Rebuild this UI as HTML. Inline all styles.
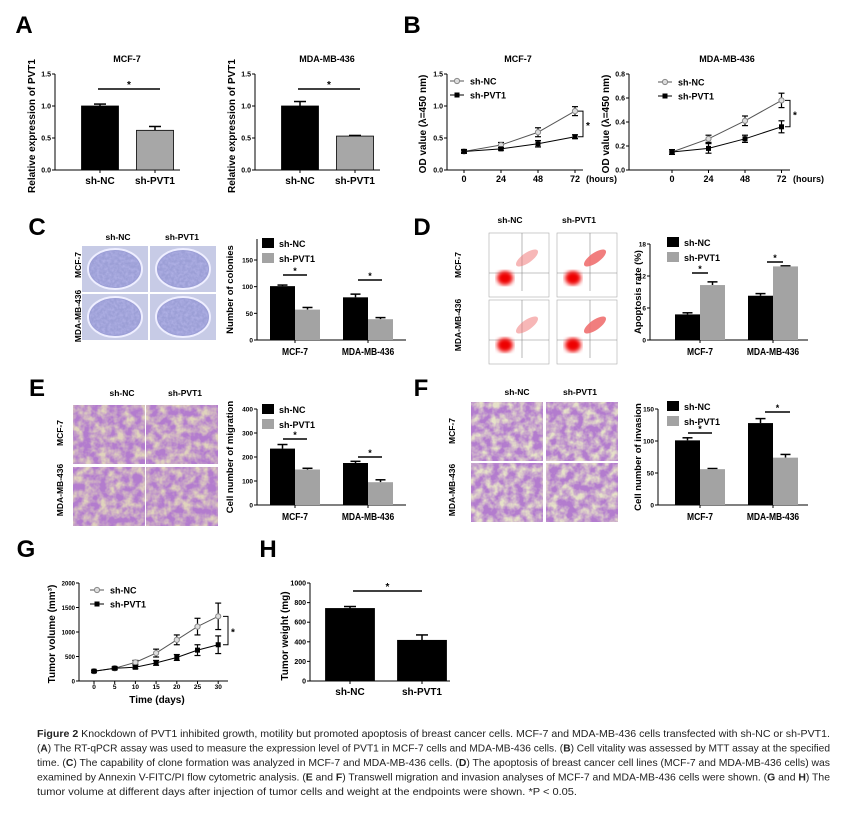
<!DOCTYPE html>
<html><head><meta charset="utf-8"><style>
html,body{margin:0;padding:0;background:#fff;}
svg{display:block;font-family:"Liberation Sans",Arial,sans-serif;}
</style></head><body>
<svg id="fig" width="859" height="820" viewBox="0 0 859 820" xmlns="http://www.w3.org/2000/svg">
<defs>
<filter id="colony" x="0" y="0" width="100%" height="100%"><feTurbulence type="fractalNoise" baseFrequency="0.35" numOctaves="2" seed="3"/><feColorMatrix type="matrix" values="0 0 0 0 0.45  0 0 0 0 0.45  0 0 0 0 0.8  0 0 0 -1.6 1.1"/><feComposite in2="SourceGraphic" operator="in"/></filter>
<filter id="trans" x="0" y="0" width="100%" height="100%"><feTurbulence type="fractalNoise" baseFrequency="0.12" numOctaves="3" seed="7"/><feColorMatrix type="matrix" values="0 0 0 0 0.45  0 0 0 0 0.2  0 0 0 0 0.62  0 0 0 -2.2 1.7"/><feComposite in2="SourceGraphic" operator="in"/></filter>
<filter id="blur1"><feGaussianBlur stdDeviation="2.2"/></filter>
</defs>
</svg>
<script>
// ---------- data ----------
const A_cats = ['sh-NC','sh-PVT1'];
const A1_vals = [1.0, 0.62];
const A1_err = [0.03, 0.06];
const A2_vals = [1.0, 0.53];
const A2_err = [0.07, 0.01];
const A_ticks = [0, 0.5, 1.0, 1.5];
const A_tickLabels = ['0.0','0.5','1.0','1.5'];

const B_hours = ['0','24','48','72'];
const B1_nc = [0.29, 0.39, 0.59, 0.92];
const B1_nc_err = [0.03, 0.04, 0.07, 0.07];
const B1_pvt = [0.29, 0.33, 0.41, 0.52];
const B1_pvt_err = [0.02, 0.02, 0.05, 0.03];
const B1_ticks = [0, 0.5, 1.0, 1.5];
const B1_tickLabels = ['0.0','0.5','1.0','1.5'];
const B2_nc = [0.15, 0.26, 0.41, 0.58];
const B2_nc_err = [0.02, 0.03, 0.04, 0.06];
const B2_pvt = [0.15, 0.18, 0.26, 0.36];
const B2_pvt_err = [0.02, 0.04, 0.03, 0.05];
const B2_ticks = [0, 0.2, 0.4, 0.6, 0.8];
const B2_tickLabels = ['0.0','0.2','0.4','0.6','0.8'];

const groups = ['MCF-7','MDA-MB-436'];
const C_nc = [101, 80];
const C_nc_err = [2, 6];
const C_pvt = [57, 39];
const C_pvt_err = [4, 3];
const C_ticks = [0, 50, 100, 150];
const D_nc = [4.8, 8.3];
const D_nc_err = [0.3, 0.4];
const D_pvt = [10.3, 13.8];
const D_pvt_err = [0.6, 0.1];
const D_ticks = [0, 6, 12, 18];
const E_nc = [235, 175];
const E_nc_err = [17, 7];
const E_pvt = [148, 95];
const E_pvt_err = [5, 10];
const E_ticks = [0, 100, 200, 300, 400];
const F_nc = [101, 128];
const F_nc_err = [4, 7];
const F_pvt = [56, 74];
const F_pvt_err = [1, 5];
const F_ticks = [0, 50, 100, 150];

const G_days = ['0','5','10','15','20','25','30'];
const G_nc = [200, 260, 380, 570, 840, 1110, 1320];
const G_nc_err = [20, 30, 40, 80, 100, 170, 270];
const G_pvt = [200, 260, 280, 370, 480, 630, 740];
const G_pvt_err = [20, 20, 30, 50, 60, 110, 180];
const G_ticks = [0, 500, 1000, 1500, 2000];

const H_vals = [740, 415];
const H_err = [20, 55];
const H_ticks = [0, 200, 400, 600, 800, 1000];

// ---------- helpers ----------
const svg = document.getElementById('fig');
const NS = 'http://www.w3.org/2000/svg';
function mk(tag, attrs, parent) {
  const e = document.createElementNS(NS, tag);
  for (const k in attrs) e.setAttribute(k, attrs[k]);
  (parent || svg).appendChild(e);
  return e;
}
function grp(name) {
  const g = mk('g', {});
  
  
  return g;
}
function txt(p, x, y, s, size, anchor, extra) {
  const t = mk('text', Object.assign({x: x, y: y, 'font-size': size, 'font-weight': 'bold', 'text-anchor': anchor || 'middle', fill: '#000'}, extra || {}), p);
  t.textContent = s;
  return t;
}
function rotTxt(p, x, y, s, size) {
  return txt(p, x, y, s, size, 'middle', {transform: 'rotate(-90 ' + x + ' ' + y + ')'});
}
function line(p, x1, y1, x2, y2, w, c) {
  return mk('line', {x1: x1, y1: y1, x2: x2, y2: y2, stroke: c || '#000', 'stroke-width': w || 1}, p);
}
function yAxis(p, ax, y0, yT, tmax, ticks, labels, yTop, fs) {
  const sc = v => y0 - v * (y0 - yT) / tmax;
  line(p, ax, y0, ax, yTop, 1);
  ticks.forEach((t, i) => {
    line(p, ax - 3, sc(t), ax, sc(t), 1);
    txt(p, ax - 4, sc(t) + 2.5, labels ? labels[i] : String(t), fs || 7, 'end');
  });
  return sc;
}
function letter(s, x, y) {
  const g = grp('panel-label-' + s.toLowerCase());
  txt(g, x, y, s, 24, 'middle');
}

// ---------- panel letters ----------
letter('A', 24, 33); letter('B', 412, 33); letter('C', 37, 235); letter('D', 422, 235);
letter('E', 37, 396); letter('F', 421, 396); letter('G', 26, 557); letter('H', 268, 557);

// ---------- simple two-bar chart ----------
function twoBar(name, title, ax, y0, yT, tmax, ticks, labels, vals, errs, centers, bw, colors, sig, ytitle, ytx, xEnd, titleX, fs) {
  const g = grp(name);
  if (title) txt(g, titleX, 62, title, 9);
  const sc = yAxis(g, ax, y0, yT, tmax, ticks, labels, yT, fs);
  line(g, ax, y0, xEnd, y0, 1);
  rotTxt(g, ytx, (y0 + yT) / 2 + 4, ytitle, 10);
  vals.forEach((v, i) => {
    const c = centers[i];
    const top = sc(v + errs[i]);
    line(g, c, sc(v), c, top, 1.5);
    line(g, c - 6, top, c + 6, top, 1.5);
    const r = mk('rect', {x: c - bw / 2, y: sc(v), width: bw, height: y0 - sc(v), fill: colors[i], stroke: '#000', 'stroke-width': 0.8}, g);
    
    
    line(g, c, y0, c, y0 + 3, 1);
    txt(g, c, y0 + 14, A_cats[i], 10);
  });
  line(g, sig[0], sig[2], sig[1], sig[2], 1.5);
  txt(g, (sig[0] + sig[1]) / 2, sig[2] - 1, '*', 10);
}
twoBar('chart-a-mcf7', 'MCF-7', 55, 170, 74, 1.5, A_ticks, A_tickLabels, A1_vals, A1_err, [100, 155], 37, ['#000', '#a7a7a7'], [98, 160, 89], 'Relative expression of PVT1', 35, 180, 127);
twoBar('chart-a-mda', 'MDA-MB-436', 255, 170, 74, 1.5, A_ticks, A_tickLabels, A2_vals, A2_err, [300, 355], 37, ['#000', '#a7a7a7'], [298, 360, 89], 'Relative expression of PVT1', 235, 380, 327);
twoBar('chart-h-weight', null, 310, 681, 583, 1000, H_ticks, null, H_vals, H_err, [350, 422], 49, ['#000', '#000'], [353, 422, 591], 'Tumor weight (mg)', 288, 450, 0);

// ---------- line charts ----------
function lineChart(name, title, titleX, ax, x0, xStep, xEnd, y0, yT, tmax, ticks, labels, cats, nc, ncErr, pvt, pvtErr, ytitle, ytx, unit, legX, legY, bracketX, fs, xlblY, capW) {
  const g = grp(name);
  if (title) txt(g, titleX, 62, title, 9);
  const sc = yAxis(g, ax, y0, yT, tmax, ticks, labels, yT, fs);
  const xs = i => x0 + i * xStep;
  line(g, ax, y0, xEnd, y0, 1);
  cats.forEach((c, i) => {
    line(g, xs(i), y0, xs(i), y0 + 3, 1);
    txt(g, xs(i), xlblY, c, fs === 6 ? 6.5 : 9);
  });
  if (unit) txt(g, xEnd + 3, xlblY, unit, 9, 'start');
  rotTxt(g, ytx, (y0 + yT) / 2 + 2, ytitle, 10);
  [[nc, ncErr, '#9a9a9a', 'sh-nc'], [pvt, pvtErr, '#000', 'sh-pvt1']].forEach(s => {
    const pts = s[0].map((v, i) => xs(i) + ',' + sc(v)).join(' ');
    const pl = mk('polyline', {points: pts, fill: 'none', stroke: s[3] === 'sh-nc' ? '#555' : '#000', 'stroke-width': 1}, g);
    
    
    s[0].forEach((v, i) => {
      const x = xs(i);
      line(g, x, sc(v - s[1][i]), x, sc(v + s[1][i]), 1.2);
      line(g, x - capW, sc(v + s[1][i]), x + capW, sc(v + s[1][i]), 1.2);
      line(g, x - capW, sc(v - s[1][i]), x + capW, sc(v - s[1][i]), 1.2);
      let m;
      if (s[3] === 'sh-nc') m = mk('circle', {cx: x, cy: sc(v), r: 2.6, fill: '#ddd', stroke: '#888', 'stroke-width': 1}, g);
      else m = mk('rect', {x: x - 2.5, y: sc(v) - 2.5, width: 5, height: 5, fill: '#000'}, g);
      
      
    });
  });
  const lg = mk('g', {}, g);
  
  
  line(lg, legX, legY, legX + 14, legY, 1, '#555');
  mk('circle', {cx: legX + 7, cy: legY, r: 2.6, fill: '#ddd', stroke: '#888'}, lg);
  txt(lg, legX + 20, legY + 3.5, 'sh-NC', 9, 'start');
  line(lg, legX, legY + 14, legX + 14, legY + 14, 1);
  mk('rect', {x: legX + 4.5, y: legY + 11.5, width: 5, height: 5, fill: '#000'}, lg);
  txt(lg, legX + 20, legY + 17.5, 'sh-PVT1', 9, 'start');
  const last = nc.length - 1;
  const ya = sc(nc[last]), yb = sc(pvt[last]);
  mk('polyline', {points: (bracketX - 5) + ',' + ya + ' ' + bracketX + ',' + ya + ' ' + bracketX + ',' + yb + ' ' + (bracketX - 5) + ',' + yb, fill: 'none', stroke: '#000', 'stroke-width': 1}, g);
  txt(g, bracketX + 5, (ya + yb) / 2 + 5, '*', 10);
}
lineChart('chart-b-mcf7', 'MCF-7', 518, 447, 464, 37, 583, 170, 74, 1.5, B1_ticks, B1_tickLabels, B_hours, B1_nc, B1_nc_err, B1_pvt, B1_pvt_err, 'OD value (\u03bb=450 nm)', 426, '(hours)', 450, 81, 583, 7, 182, 3);
lineChart('chart-b-mda', 'MDA-MB-436', 727, 629, 672, 36.5, 790, 170, 74, 0.8, B2_ticks, B2_tickLabels, B_hours, B2_nc, B2_nc_err, B2_pvt, B2_pvt_err, 'OD value (\u03bb=450 nm)', 609, '(hours)', 658, 82, 790, 7, 182, 3);
lineChart('chart-g-volume', null, 0, 79, 94, 20.7, 228, 681, 583, 2000, G_ticks, null, G_days, G_nc, G_nc_err, G_pvt, G_pvt_err, 'Tumor volume (mm\u00b3)', 55, null, 90, 590, 228, 6, 689, 3);
txt(svg.lastChild, 157, 703, 'Time (days)', 10);

// ---------- grouped bar charts ----------
function groupBar(name, ax, yTop, y0, yT, tmax, ticks, nc, ncErr, pvt, pvtErr, centers, xEnd, ytitle, ytx, sigs, legX, legY) {
  const g = grp(name);
  const sc = yAxis(g, ax, y0, yT, tmax, ticks, null, yTop, 6.5);
  line(g, ax, y0, xEnd, y0, 1);
  rotTxt(g, ytx, (y0 + yTop) / 2, ytitle, 9.5);
  const bw = 25;
  groups.forEach((gn, i) => {
    const c = centers[i];
    [[nc, ncErr, '#000', -1, 'sh-nc'], [pvt, pvtErr, '#a3a3a3', 1, 'sh-pvt1']].forEach(s => {
      const bx = s[3] < 0 ? c - bw : c;
      const v = s[0][i], e = s[1][i];
      const mid = bx + bw / 2;
      line(g, mid, sc(v), mid, sc(v + e), 1.5);
      line(g, mid - 5, sc(v + e), mid + 5, sc(v + e), 1.5);
      const r = mk('rect', {x: bx, y: sc(v), width: bw, height: y0 - sc(v), fill: s[2]}, g);
      
      
    });
    line(g, c, y0, c, y0 + 3, 1);
    txt(g, c, y0 + 15, gn, 10, 'middle', {transform: 'translate(' + c + ' 0) scale(0.85 1) translate(' + (-c) + ' 0)'});
    line(g, sigs[i][0], sigs[i][2], sigs[i][1], sigs[i][2], 1.5);
    txt(g, (sigs[i][0] + sigs[i][1]) / 2, sigs[i][2] - 1, '*', 9);
  });
  const lg = mk('g', {}, g);
  
  
  mk('rect', {x: legX, y: legY - 5, width: 12, height: 10, fill: '#000'}, lg);
  txt(lg, legX + 17, legY + 4, 'sh-NC', 9, 'start');
  mk('rect', {x: legX, y: legY + 10, width: 12, height: 10, fill: '#a3a3a3'}, lg);
  txt(lg, legX + 17, legY + 19, 'sh-PVT1', 9, 'start');
}
groupBar('chart-c-colonies', 257, 239, 340, 260, 150, C_ticks, C_nc, C_nc_err, C_pvt, C_pvt_err, [295, 368], 406, 'Number of colonies', 233, [[283, 307, 275], [358, 382, 280]], 262, 243);
groupBar('chart-d-apoptosis', 650, 244, 340, 244, 18, D_ticks, D_nc, D_nc_err, D_pvt, D_pvt_err, [700, 773], 808, 'Apoptosis rate (%)', 641, [[692, 708, 273], [767, 783, 262]], 667, 242);
groupBar('chart-e-migration', 257, 409, 505, 409, 400, E_ticks, E_nc, E_nc_err, E_pvt, E_pvt_err, [295, 368], 406, 'Cell number of migration', 233, [[283, 307, 439], [358, 382, 457]], 262, 409);
groupBar('chart-f-invasion', 658, 409, 505, 409, 150, F_ticks, F_nc, F_nc_err, F_pvt, F_pvt_err, [700, 773], 808, 'Cell number of invasion', 641, [[688, 712, 433], [765, 790, 412]], 667, 406);

// ---------- image panels ----------
function photoHeaders(g, xs, y, rows, xr) {
  txt(g, xs[0], y, 'sh-NC', 8.5);
  txt(g, xs[1], y, 'sh-PVT1', 8.5);
  rotTxt(g, xr, rows[0], 'MCF-7', 8.5);
  rotTxt(g, xr, rows[1], 'MDA-MB-436', 8.5);
}
(function () {
  const g = grp('colony-images');
  photoHeaders(g, [118, 182], 240, [265, 316], 81);
  [[82, 246], [150, 246], [82, 294], [150, 294]].forEach((p, i) => {
    mk('rect', {x: p[0], y: p[1], width: 66, height: 46, fill: '#c7cbe6'}, g);
    mk('ellipse', {cx: p[0] + 33, cy: p[1] + 23, rx: 27, ry: 20, fill: '#9c9fd6', stroke: '#eef', 'stroke-width': 2}, g);
    mk('ellipse', {cx: p[0] + 33, cy: p[1] + 23, rx: 25, ry: 18, fill: i % 2 ? '#b0b1de' : '#6f72c0', filter: 'url(#colony)'}, g);
  });
})();
(function () {
  const g = grp('flow-cytometry-plots');
  photoHeaders(g, [510, 579], 223, [265, 325], 461);
  [[489, 233], [557, 233], [489, 300], [557, 300]].forEach((p, i) => {
    mk('rect', {x: p[0], y: p[1], width: 60, height: 64, fill: '#fff', stroke: '#aaa', 'stroke-width': 0.6}, g);
    line(g, p[0] + 33, p[1], p[0] + 33, p[1] + 58, 0.6, '#888');
    line(g, p[0], p[1] + 40, p[0] + 60, p[1] + 40, 0.6, '#888');
    mk('ellipse', {cx: p[0] + 16, cy: p[1] + 45, rx: 8, ry: 7, fill: '#e00', filter: 'url(#blur1)'}, g);
    mk('ellipse', {cx: p[0] + 38, cy: p[1] + 25, rx: 13, ry: 5, fill: '#f07070', opacity: i % 2 ? 0.9 : 0.5, transform: 'rotate(-35 ' + (p[0] + 38) + ' ' + (p[1] + 25) + ')'}, g);
  });
})();
(function () {
  const g = grp('migration-images');
  photoHeaders(g, [122, 185], 396, [433, 490], 63);
  [[73, 405], [146, 405], [73, 467], [146, 467]].forEach((p, i) => {
    mk('rect', {x: p[0], y: p[1], width: 72, height: 59, fill: '#e0d4bc'}, g);
    mk('rect', {x: p[0], y: p[1], width: 72, height: 59, fill: i % 2 ? '#8a55b0' : '#6e2090', filter: 'url(#trans)'}, g);
  });
})();
(function () {
  const g = grp('invasion-images');
  photoHeaders(g, [517, 580], 395, [431, 490], 455);
  [[471, 402], [546, 402], [471, 463], [546, 463]].forEach((p, i) => {
    mk('rect', {x: p[0], y: p[1], width: 72, height: 59, fill: '#e6e2c8'}, g);
    mk('rect', {x: p[0], y: p[1], width: 72, height: 59, fill: i % 2 ? '#7d58b0' : '#5e2e94', filter: 'url(#trans)'}, g);
  });
})();

// ---------- caption ----------
(function () {
  const g = grp('figure-caption');
  const lines = [
    [['b','Figure 2 '], ['n','Knockdown of PVT1 inhibited growth, motility but promoted apoptosis of breast cancer cells. MCF-7 and MDA-MB-436 cells transfected with sh-NC or sh-PVT1.']],
    [['n','('], ['b','A'], ['n',') The RT-qPCR assay was used to measure the expression level of PVT1 in MCF-7 cells and MDA-MB-436 cells. ('], ['b','B'], ['n',') Cell vitality was assessed by MTT assay at the specified']],
    [['n','time. ('], ['b','C'], ['n',') The capability of clone formation was analyzed in MCF-7 and MDA-MB-436 cells. ('], ['b','D'], ['n',') The apoptosis of breast cancer cell lines (MCF-7 and MDA-MB-436 cells) was']],
    [['n','examined by Annexin V-FITC/PI flow cytometric analysis. ('], ['b','E'], ['n',' and '], ['b','F'], ['n',') Transwell migration and invasion analyses of MCF-7 and MDA-MB-436 cells were shown. ('], ['b','G'], ['n',' and '], ['b','H'], ['n',') The']],
    [['n','tumor volume at different days after injection of tumor cells and weight at the endpoints were shown. *P < 0.05.']]
  ];
  const widths = [793, 793, 793, 793, 540];
  lines.forEach((l, i) => {
    const t = mk('text', {x: 37, y: 737 + i * 14.5, 'font-size': 10.5, fill: '#222', textLength: widths[i], lengthAdjust: 'spacingAndGlyphs'}, g);
    l.forEach(part => {
      const s = mk('tspan', part[0] === 'b' ? {'font-weight': 'bold'} : {}, t);
      s.textContent = part[1];
    });
  });
})();
</script>
</body></html>
